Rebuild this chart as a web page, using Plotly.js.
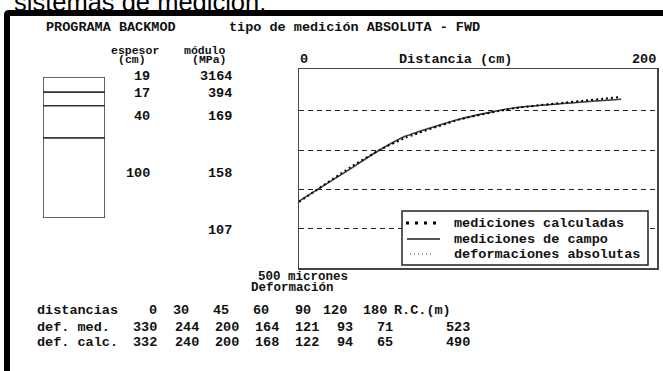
<!DOCTYPE html>
<html>
<head>
<meta charset="utf-8">
<script src="https://cdn.plot.ly/plotly-3.0.1.min.js"></script>
<style>
  html, body { margin: 0; padding: 0; background: #fff; }
  #chart { width: 663px; height: 371px; }
</style>
</head>
<body>
<div id="chart"></div>
<script>
// ---- Deflection data (FWD, absolute measurement) ----
const distancias = [0, 30, 45, 60, 90, 120, 180];          // cm
const defMed     = [330, 244, 200, 164, 121, 93, 71];      // measured, microns
const defCalc    = [332, 240, 200, 168, 122, 94, 65];      // back-calculated, microns
const rcMed  = 523;                                        // R.C. (m), measured
const rcCalc = 490;                                        // R.C. (m), calculated

// ---- Pavement structure ----
const espesores = [19, 17, 40, 100];                       // layer thickness, cm
const modulos   = [3164, 394, 169, 158, 107];              // layer moduli, MPa

// ---- Legend / series names ----
const serieNames = ['mediciones calculadas', 'mediciones de campo', 'deformaciones absolutas'];

// ---- Figure geometry helpers (pixel -> paper) ----
const W = 663, H = 371;
const px = x => x / W;
const py = y => 1 - y / H;

const MONO = 'Liberation Mono, DejaVu Sans Mono, monospace';
const INK = '#111';

function label(text, x, y, opts) {
  opts = opts || {};
  return {
    text: text, showarrow: false,
    xref: opts.xref || 'paper', yref: opts.yref || 'paper',
    x: opts.xref ? x : px(x), y: opts.yref ? y : py(y),
    xanchor: opts.anchor || 'left', yanchor: 'middle',
    borderpad: 0,
    font: { family: opts.family || MONO, size: opts.size || 13.5, color: opts.color || INK,
            weight: opts.weight || 'bold' }
  };
}

// cumulative depth of each layer top
const depthTop = [];
espesores.reduce((acc, e) => { depthTop.push(acc); return acc + e; }, 0);
const totalDepth = espesores.reduce((a, b) => a + b, 0);

const traces = [
  {
    name: serieNames[1], x: distancias, y: defMed, xaxis: 'x', yaxis: 'y',
    type: 'scatter', mode: 'lines',
    line: { color: '#333', width: 1.6, shape: 'spline', smoothing: 0.5 },
    showlegend: false, hoverinfo: 'skip'
  },
  {
    name: serieNames[2], x: distancias, y: defMed, xaxis: 'x', yaxis: 'y',
    type: 'scatter', mode: 'lines',
    line: { color: '#666', width: 1, dash: '1px,2px', shape: 'spline', smoothing: 0.5 },
    showlegend: false, hoverinfo: 'skip'
  },
  {
    name: serieNames[0], x: distancias, y: defCalc, xaxis: 'x', yaxis: 'y',
    type: 'scatter', mode: 'lines',
    line: { color: '#000', width: 2, dash: '2px,3px', shape: 'spline', smoothing: 0.5 },
    showlegend: false, hoverinfo: 'skip'
  },
  // layered pavement column
  {
    type: 'bar', xaxis: 'x2', yaxis: 'y2',
    x: espesores.map(() => 0), y: espesores, base: depthTop, width: 1,
    marker: { color: '#fff', line: { color: '#333', width: 1.5 } },
    showlegend: false, hoverinfo: 'skip'
  }
];

// ---- Text ----
const ann = [];
ann.push(label('sistemas de medición.', 13, 2, { family: 'Liberation Sans, Arial, sans-serif', size: 25.5, weight: 'normal', color: '#000' }));
ann.push(label('PROGRAMA BACKMOD', 45, 27));
ann.push(label('tipo de medición ABSOLUTA - FWD', 228, 27));

ann.push(label('espesor', 110, 50, { size: 11.5 }));
ann.push(label('(cm)', 117, 59, { size: 11.5 }));
ann.push(label('módulo', 183, 50, { size: 11.5 }));
ann.push(label('(MPa)', 191, 59, { size: 11.5 }));

const espY = [76, 93, 116, 173];
const modY = [76, 93, 116, 173, 230];
espesores.forEach((e, i) => ann.push(label(String(e), 151, espY[i], { anchor: 'right' })));
modulos.forEach((m, i) => ann.push(label(String(m), 233, modY[i], { anchor: 'right' })));

// axis end labels and title
ann.push(label('0', 0, 60, { xref: 'x', anchor: 'left' }));
ann.push(label('200', 200, 60, { xref: 'x', anchor: 'right' }));
ann.push(label('Distancia (cm)', 398, 60));

ann.push(label('500 micrones', 257, 277, { size: 12.5 }));
ann.push(label('Deformación', 250, 288, { size: 12.5 }));

// results table
const rowY = [310, 327, 342];
const colRight1 = [158, 190, 230, 270, 312, 348, 388];
const colRight2 = [158, 200, 240, 280, 320, 354, 394];
ann.push(label('distancias', 36, rowY[0]));
ann.push(label('def. med.', 36, rowY[1]));
ann.push(label('def. calc.', 36, rowY[2]));
distancias.forEach((d, i) => ann.push(label(String(d), colRight1[i], rowY[0], { anchor: 'right' })));
defMed.forEach((v, i) => ann.push(label(String(v), colRight2[i], rowY[1], { anchor: 'right' })));
defCalc.forEach((v, i) => ann.push(label(String(v), colRight2[i], rowY[2], { anchor: 'right' })));
ann.push(label('R.C.(m)', 393, rowY[0]));
ann.push(label(String(rcMed), 471, rowY[1], { anchor: 'right' }));
ann.push(label(String(rcCalc), 471, rowY[2], { anchor: 'right' }));

// legend box contents
const legY = [223, 239, 254];
serieNames.forEach((n, i) => ann.push(label(n, 453, legY[i])));

// ---- Shapes: screen frame and legend ----
const frame = `M ${px(4)},${py(371)} L ${px(4)},${py(15)} Q ${px(4)},${py(10)} ${px(9)},${py(10)} ` +
              `L ${px(663)},${py(10)} L ${px(663)},${py(16)} L ${px(10)},${py(16)} L ${px(10)},${py(371)} Z`;
const shapes = [
  { type: 'path', xref: 'paper', yref: 'paper', path: frame, fillcolor: '#000', line: { width: 0 } },
  { type: 'rect', xref: 'paper', yref: 'paper', x0: px(402), x1: px(648), y0: py(211), y1: py(265),
    fillcolor: '#fff', line: { color: '#222', width: 1.5 }, layer: 'above' },
  { type: 'line', xref: 'paper', yref: 'paper', x0: px(406), x1: px(440), y0: py(legY[0]), y1: py(legY[0]),
    line: { color: '#000', width: 3, dash: '3px,6px' }, layer: 'above' },
  { type: 'line', xref: 'paper', yref: 'paper', x0: px(407), x1: px(440), y0: py(legY[1]), y1: py(legY[1]),
    line: { color: '#555', width: 1.8 }, layer: 'above' },
  { type: 'line', xref: 'paper', yref: 'paper', x0: px(410), x1: px(434), y0: py(legY[2]), y1: py(legY[2]),
    line: { color: '#555', width: 1, dash: '1px,3px' }, layer: 'above' }
];

const layout = {
  width: W, height: H,
  margin: { l: 0, r: 0, t: 0, b: 0 },
  paper_bgcolor: '#fff', plot_bgcolor: '#fff',
  showlegend: false,
  xaxis: {
    domain: [px(299), px(657)], anchor: 'y', side: 'top', range: [0, 200],
    showgrid: false, zeroline: false, showticklabels: false, ticks: '',
    showline: true, mirror: true, linecolor: '#444', linewidth: 1.5, fixedrange: true
  },
  yaxis: {
    domain: [py(268), py(69)], anchor: 'x', range: [500, -6],
    tickvals: [100, 200, 300, 400], showticklabels: false, ticks: '',
    showgrid: true, gridcolor: '#222', gridwidth: 1, griddash: '5px,4px',
    zeroline: false, showline: true, mirror: true, linecolor: '#444', linewidth: 1.5, fixedrange: true
  },
  xaxis2: { domain: [px(43), px(105)], anchor: 'y2', range: [-0.5, 0.5], visible: false, fixedrange: true },
  yaxis2: { domain: [py(218), py(77)], anchor: 'x2', range: [totalDepth, 0], visible: false, fixedrange: true },
  bargap: 0,
  annotations: ann,
  shapes: shapes
};

Plotly.newPlot('chart', traces, layout, { staticPlot: true, displayModeBar: false });
</script>
</body>
</html>
